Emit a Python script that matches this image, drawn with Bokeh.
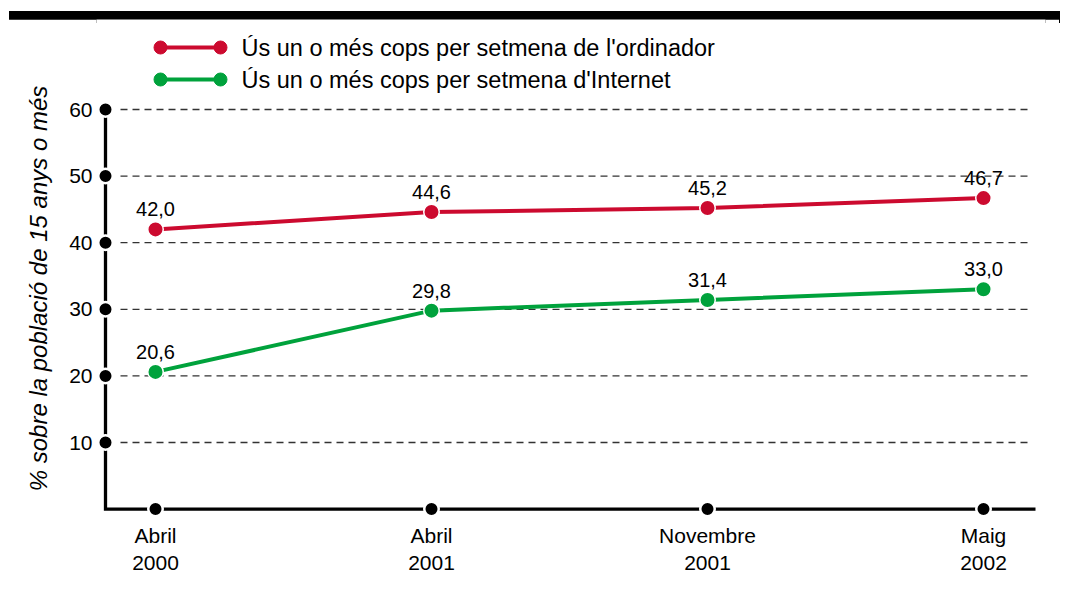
from bokeh.plotting import figure
from bokeh.models import Range1d, FixedTicker, Div, Column
from bokeh.core.properties import value
from bokeh.embed import file_html
from bokeh.resources import INLINE

# ---------------- data ----------------
periods = ["Abril\n2000", "Abril\n2001", "Novembre\n2001", "Maig\n2002"]
ordinador = [42.0, 44.6, 45.2, 46.7]
internet = [20.6, 29.8, 31.4, 33.0]
y_ticks = [10, 20, 30, 40, 50, 60]
label_ordinador = "Ús un o més cops per setmena de l'ordinador"
label_internet = "Ús un o més cops per setmena d'Internet"
y_title = "% sobre la població de 15 anys o més"

RED = "#CC0A2F"
GREEN = "#00A23C"
FONT = "Liberation Sans"

# ---------------- layout (page pixels) ----------------
PAGE = 8                    # page offset applied via margins
F_LEFT, F_RIGHT, F_TOP, F_BOTTOM = 96, 1045, 19, 517
X0, XS = 155.0, 276.0      # page x of first period, px per period
Y0, YS = 508.6, 6.66       # page y of value 0, px per unit
FIG_W, FIG_H = 1051, 560


def X(px):
    return (px - X0) / XS


def Y(py):
    return (Y0 - py) / YS


xs = list(range(len(periods)))

p = figure(
    width=FIG_W, height=FIG_H,
    x_range=Range1d(X(F_LEFT), X(F_RIGHT)),
    y_range=Range1d(Y(F_BOTTOM), Y(F_TOP)),
    output_backend="svg", toolbar_location=None,
    min_border_left=F_LEFT - PAGE, min_border_right=PAGE + FIG_W - F_RIGHT,
    min_border_top=0, min_border_bottom=FIG_H - (F_BOTTOM - F_TOP),
    margin=(0, 0, 0, PAGE),
)
p.outline_line_color = None
p.xgrid.visible = False
p.ygrid.visible = False
p.background_fill_color = "white"
p.border_fill_color = "white"

# axes (labels only; lines/dots drawn as glyphs)
for ax in (p.xaxis[0], p.yaxis[0]):
    ax.axis_line_color = None
    ax.major_tick_line_color = None
    ax.minor_tick_line_color = None
    ax.major_tick_in = 0
    ax.major_tick_out = 0
    ax.major_label_text_font = FONT
    ax.major_label_text_color = "black"

p.yaxis.ticker = FixedTicker(ticks=y_ticks)
p.yaxis.major_label_text_font_size = "21px"
p.yaxis.major_label_standoff = 4
# trailing no-break spaces nudge the centred title toward the axis origin
p.yaxis.axis_label = y_title + "\u00a0" * 6
p.yaxis.axis_label_text_font = FONT
p.yaxis.axis_label_text_font_size = "24px"
p.yaxis.axis_label_text_font_style = "italic"
p.yaxis.axis_label_text_color = "black"
p.yaxis.axis_label_standoff = 14

p.xaxis.ticker = FixedTicker(ticks=xs)
p.xaxis.major_label_overrides = {i: lab for i, lab in zip(xs, periods)}
p.xaxis.major_label_text_font_size = "21px"
p.xaxis.major_label_standoff = 6

# gridlines
p.segment(x0=X(120), y0=y_ticks, x1=X(1027), y1=y_ticks,
          line_color="#333333", line_width=1.3, line_dash="7 5")

# axis lines
p.line([X(105), X(105), X(1035)], [y_ticks[-1], 0, 0],
       line_color="black", line_width=3.3, line_join="miter")
p.scatter([X(105)] * len(y_ticks), y_ticks, size=14.5, fill_color="black",
          line_color="white", line_width=2.5)
p.scatter(xs, [0] * len(xs), size=14.5, fill_color="black",
          line_color="white", line_width=2.5)

# series
for vals, col in ((ordinador, RED), (internet, GREEN)):
    p.line(xs, vals, line_color=col, line_width=4)
    p.scatter(xs, vals, size=15.5, fill_color=col, line_color="white", line_width=1.5)
    p.text(xs, vals, text=[f"{v:.1f}".replace(".", ",") for v in vals],
           text_font=value(FONT), text_font_size="20px", text_color="black",
           text_align="center", text_baseline="alphabetic", y_offset=-20)

# legend
for py, col, lab in ((47, RED, label_ordinador), (79, GREEN, label_internet)):
    p.line([X(160), X(220)], [Y(py), Y(py)], line_color=col, line_width=4)
    p.scatter([X(160), X(220)], [Y(py), Y(py)], size=13, fill_color=col, line_color=col)
    p.text([X(241)], [Y(py)], text=[lab], text_font=value(FONT),
           text_font_size="23.5px", text_color="black",
           text_align="left", text_baseline="middle")

bar = Div(text='<div style="background:#000;width:1051px;height:8px"></div>',
          width=1051, height=8, margin=(11, 0, 0, 9),
          styles={"background-color": "#000"})

layout = Column(children=[bar, p], spacing=0, margin=(0, 0, 0, 0))

open("out.html", "w").write(file_html(layout, INLINE))
